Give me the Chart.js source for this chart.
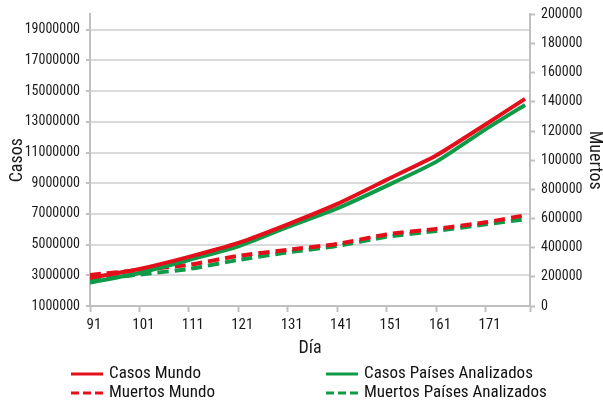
<!DOCTYPE html>
<html>
<head>
<meta charset="utf-8">
<script src="https://cdn.jsdelivr.net/npm/chart.js@4.4.0/dist/chart.umd.min.js"></script>
<style>
  html, body { margin: 0; padding: 0; background: #fff; }
  #wrap { position: relative; width: 603px; height: 407px; }
  #leyenda { position: absolute; left: 0; top: 0; width: 603px; height: 407px; pointer-events: none;
    font-family: 'Roboto Condensed', 'DejaVu Sans Condensed', sans-serif; font-size: 17px; color: #111; }
  .item { position: absolute; height: 20px; display: flex; align-items: center; white-space: nowrap; }
  .item svg { margin-right: 6px; }
  .item span { position: relative; top: -2px; }
</style>
</head>
<body>
<div id="wrap">
  <canvas id="grafico" width="603" height="407"></canvas>
  <div id="leyenda"></div>
</div>
<script>
// días y series
const dias = [91, 101, 111, 121, 131, 141, 151, 161, 171, 179];
const casosMundo = [2830000, 3410000, 4200000, 5110000, 6320000, 7650000, 9220000, 10800000, 12830000, 14500000];
const casosPaises = [2530000, 3150000, 4000000, 4880000, 6150000, 7360000, 8830000, 10390000, 12510000, 14100000];
const muertosMundo = [21300, 24700, 28200, 34400, 38500, 42600, 49100, 52900, 57400, 62200];
const muertosPaises = [17900, 21600, 25400, 31600, 36800, 41200, 47400, 51500, 56000, 59500];

// marcas de los ejes
const ticksDia = [91, 101, 111, 121, 131, 141, 151, 161, 171, 180];
const ticksCasos = [1000000, 3000000, 5000000, 7000000, 9000000, 11000000, 13000000, 15000000, 17000000, 19000000];
const ticksMuertos = [0, 20000, 40000, 60000, 80000, 100000, 120000, 140000, 160000, 180000, 200000];
const etiquetasMuertos = ['0', '200000', '400000', '600000', '800000', '100000', '120000', '140000', '160000', '180000', '200000'];

const ROJO = '#e3101c';
const VERDE = '#0f9a47';
const GRIS = '#c0c0c0';
const fuente = "'Roboto Condensed', 'DejaVu Sans Condensed', sans-serif";

Chart.defaults.font.family = fuente;
Chart.defaults.color = '#1a1a1a';

function serie(label, valores, color, eje, dash) {
  return {
    label: label,
    data: dias.map((d, i) => ({ x: d, y: valores[i] })),
    borderColor: color,
    backgroundColor: color,
    borderWidth: 4,
    borderDash: dash,
    yAxisID: eje,
    pointRadius: 0,
    tension: 0.2,
    fill: false
  };
}

const ctx = document.getElementById('grafico').getContext('2d');
const grafico = new Chart(ctx, {
  type: 'line',
  data: {
    datasets: [
      serie('Casos Mundo', casosMundo, ROJO, 'y', []),
      serie('Casos Países Analizados', casosPaises, VERDE, 'y', []),
      serie('Muertos Mundo', muertosMundo, ROJO, 'y1', [11, 6]),
      serie('Muertos Países Analizados', muertosPaises, VERDE, 'y1', [11, 6])
    ]
  },
  options: {
    responsive: false,
    animation: false,
    layout: { padding: { top: 14, bottom: 46, left: 0, right: 0 } },
    plugins: { legend: { display: false }, tooltip: { enabled: false } },
    scales: {
      x: {
        type: 'linear',
        position: 'bottom',
        min: 91,
        max: 180,
        afterBuildTicks: s => { s.ticks = ticksDia.map(v => ({ value: v })); },
        afterFit: s => { s.height = 55; },
        ticks: {
          autoSkip: false,
          maxRotation: 0,
          padding: 4,
          labelOffset: 4,
          font: { size: 15 },
          callback: v => (v === 180 ? '' : String(v))
        },
        grid: { drawOnChartArea: false, tickLength: 6, tickColor: GRIS, tickWidth: 2 },
        border: { color: GRIS, width: 2 },
        title: { display: true, text: 'Día', font: { size: 18 }, padding: { top: 0, bottom: 2 } }
      },
      y: {
        type: 'linear',
        position: 'left',
        min: 1000000,
        max: 20000000,
        afterBuildTicks: s => { s.ticks = ticksCasos.map(v => ({ value: v })); },
        afterFit: s => { s.width = 90; },
        ticks: { padding: 6, font: { size: 14 }, callback: v => String(v) },
        grid: { color: '#dadada', lineWidth: 2, tickLength: 4, tickColor: GRIS, tickWidth: 2 },
        border: { color: GRIS, width: 2 },
        title: { display: true, text: 'Casos', font: { size: 18 }, padding: { top: 7, bottom: 0 } }
      },
      y1: {
        type: 'linear',
        position: 'right',
        min: 0,
        max: 200000,
        afterBuildTicks: s => { s.ticks = ticksMuertos.map(v => ({ value: v })); },
        afterFit: s => { s.width = 73; },
        ticks: { padding: 6, font: { size: 14 }, callback: (v, i) => etiquetasMuertos[i] },
        grid: { drawOnChartArea: false, tickLength: 5, tickColor: GRIS, tickWidth: 2 },
        border: { color: GRIS, width: 2 },
        title: { display: true, text: 'Muertos', font: { size: 18, lineHeight: 1 }, padding: { top: 0, bottom: 0 } }
      }
    }
  }
});

// leyenda en dos columnas debajo del gráfico
const leyenda = document.getElementById('leyenda');
grafico.data.datasets.forEach((ds, i) => {
  const col = i % 2;
  const fila = Math.floor(i / 2);
  const item = document.createElement('div');
  item.className = 'item';
  item.style.left = (71 + col * 255) + 'px';
  item.style.top = (364 + fila * 19) + 'px';
  const dash = ds.borderDash.length ? 'stroke-dasharray="8 4"' : '';
  item.innerHTML = '<svg width="32" height="6"><line x1="0" y1="3" x2="32" y2="3" stroke="' +
    ds.borderColor + '" stroke-width="3" ' + dash + '/></svg><span>' + ds.label + '</span>';
  leyenda.appendChild(item);
});
</script>
</body>
</html>
